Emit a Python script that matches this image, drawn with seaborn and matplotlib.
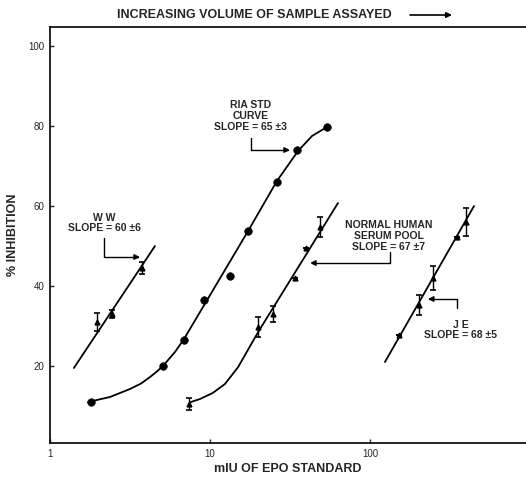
import numpy as np
import pandas as pd
import seaborn as sns
import matplotlib.pyplot as plt

# RIA standard curve: measured points and the drawn curve
ria_x = [1.8, 5.1, 6.9, 9.2, 13.3, 17.3, 26.2, 35.0, 53.8]
ria_y = [11, 20, 26.5, 36.5, 42.5, 53.75, 66, 74, 79.75]
ria_curve_x = [1.73, 2.37, 3.16, 3.7, 4.22, 4.65, 5.08, 6.04, 6.88, 17.3, 26.2, 35.5, 43.4, 53.8]
ria_curve_y = [11, 12.25, 14.25, 15.6, 17.25, 18.6, 20, 23.5, 26.75, 53.75, 66.25, 73.75, 77.5, 79.75]

# normal human serum pool
nhs_x = [7.4, 20.0, 24.8, 34.0, 39.8, 48.7]
nhs_y = [10.5, 29.75, 33.0, 42.0, 49.5, 54.75]
nhs_err = [1.5, 2.5, 2.0, 0, 0, 2.5]
nhs_curve_x = [7.6, 8.66, 10.4, 12.4, 15.0, 20.0, 63.1]
nhs_curve_y = [11, 11.75, 13.25, 15.5, 19.75, 28.5, 60.75]

# WW
ww_x = [1.97, 2.44, 3.76]
ww_y = [31, 33, 44.5]
ww_err = [2.2, 1.0, 1.5]
ww_line_x = [1.41, 4.53]
ww_line_y = [19.5, 50]

# JE
je_x = [152, 202, 248, 350, 398]
je_y = [27.75, 35.25, 42, 52.25, 56]
je_err = [0, 2.5, 3, 0, 3.5]
je_line_x = [124, 447]
je_line_y = [21, 60]

yticks = [20, 40, 60, 80, 100]
xticks = [1, 10, 100]

sns.set_style("ticks")
plt.rcParams['font.family'] = ['Liberation Sans', 'DejaVu Sans']

fig = plt.figure(figsize=(5.26, 4.78), dpi=100)
ax = fig.add_axes([50 / 526, 35 / 478, 476 / 526, 416 / 478])

ax.set_xscale('log')
ax.set_xlim(1, 10 ** (476 / 160))
ax.set_ylim(0.75, 104.75)

# lines
for cx, cy in [(ria_curve_x, ria_curve_y), (nhs_curve_x, nhs_curve_y),
               (ww_line_x, ww_line_y), (je_line_x, je_line_y)]:
    sns.lineplot(x=cx, y=cy, sort=False, color='black', lw=1.3, ax=ax)

# RIA points
sns.scatterplot(x=ria_x, y=ria_y, color='black', s=30, edgecolor='black', ax=ax, zorder=3)

# points with error bars
for px, py, pe in [(nhs_x, nhs_y, nhs_err), (ww_x, ww_y, ww_err), (je_x, je_y, je_err)]:
    ax.errorbar(px, py, yerr=pe, fmt='^', ms=3.5, color='black', mfc='black',
                ecolor='black', elinewidth=1, capsize=2.5, capthick=1.2, zorder=3)

# annotations with bracket arrows
txt = dict(fontsize=7.5, ha='center', va='center', linespacing=1.1, fontweight='bold')
ax.text(18.0, 82.5, 'RIA STD\nCURVE\nSLOPE = 65 ±3', **txt)
ax.text(2.18, 55.75, 'W W\nSLOPE = 60 ±6', **txt)
ax.text(131, 52.5, 'NORMAL HUMAN\nSERUM POOL\nSLOPE = 67 ±7', **txt)
ax.text(370, 29.0, 'J E\nSLOPE = 68 ±5', **txt)

arrow = dict(arrowstyle='-|>', color='black', lw=1, mutation_scale=8,
             shrinkA=0, shrinkB=0, connectionstyle='angle,angleA=90,angleB=0,rad=0')
ax.annotate('', xy=(31.6, 74), xytext=(18.0, 77), arrowprops=arrow)
ax.annotate('', xy=(3.65, 47.25), xytext=(2.18, 52), arrowprops=arrow)
ax.annotate('', xy=(42.2, 45.75), xytext=(133, 48.5), arrowprops=arrow)
ax.annotate('', xy=(230, 36.75), xytext=(350, 34.5), arrowprops=arrow)

ax.set_xticks(xticks)
ax.set_xticklabels(['1', '10', '100'])
ax.xaxis.set_minor_locator(plt.NullLocator())
ax.set_yticks(yticks)
ax.tick_params(direction='in', length=3, width=1, labelsize=7, pad=4)

for s in ['left', 'bottom', 'top']:
    ax.spines[s].set_linewidth(1.2)
    ax.spines[s].set_color('black')
ax.spines['right'].set_visible(False)

ax.set_xlabel('mIU OF EPO STANDARD', fontsize=9, fontweight='bold', labelpad=3)
ax.set_ylabel('% INHIBITION', fontsize=9, fontweight='bold', labelpad=7)

fig.text(254 / 526, 1 - 15 / 478, 'INCREASING VOLUME OF SAMPLE ASSAYED',
         fontsize=9, fontweight='bold', ha='center', va='center')
fig.add_artist(plt.Annotation('', xy=(452 / 526, 1 - 15 / 478), xytext=(410 / 526, 1 - 15 / 478),
                              xycoords='figure fraction',
                              arrowprops=dict(arrowstyle='-|>', color='black', lw=1.2,
                                              mutation_scale=8, shrinkA=0, shrinkB=0)))

fig.savefig('out.png', dpi=100)
